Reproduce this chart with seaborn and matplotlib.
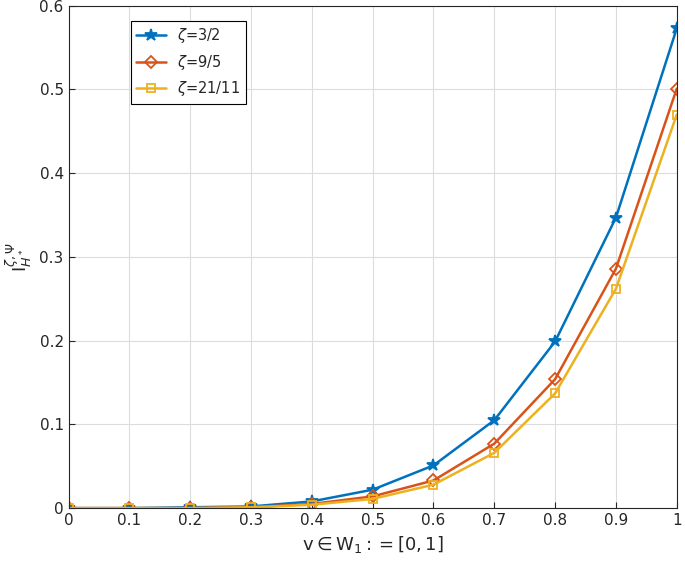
import numpy as np
import pandas as pd
import matplotlib
matplotlib.use("Agg")
import matplotlib.pyplot as plt
import seaborn as sns

sns.set_style("whitegrid")

v = [0, 0.1, 0.2, 0.3, 0.4, 0.5, 0.6, 0.7, 0.8, 0.9, 1.0]
zeta_3_2 = [0, 0, 0.001, 0.002, 0.008, 0.022, 0.051, 0.105, 0.199, 0.347, 0.573]
zeta_9_5 = [0, 0, 0, 0.001, 0.005, 0.014, 0.033, 0.077, 0.154, 0.286, 0.501]
zeta_21_11 = [0, 0, 0, 0.001, 0.004, 0.011, 0.028, 0.066, 0.137, 0.262, 0.470]
labels = [r"$\zeta$=3/2", r"$\zeta$=9/5", r"$\zeta$=21/11"]

d = pd.DataFrame({"v": v * 3,
                  "I": zeta_3_2 + zeta_9_5 + zeta_21_11,
                  "series": [labels[0]] * 11 + [labels[1]] * 11 + [labels[2]] * 11})

fig, ax = plt.subplots(figsize=(6.85, 5.69), dpi=100)
colors = ["#0072BD", "#D95319", "#EDB120"]
markers = ["*", "D", "s"]
for lab, c, m in zip(labels, colors, markers):
    sub = d[d["series"] == lab]
    sns.lineplot(data=sub, x="v", y="I", ax=ax, color=c, marker=m, lw=1.8,
                 markersize=9 if m == "*" else 6, markerfacecolor="none" if m != "*" else c,
                 markeredgecolor=c, markeredgewidth=1.3, label=lab)

ax.set_xlim(0, 1)
ax.set_ylim(0, 0.6)
ax.set_xticks(np.arange(0, 1.01, 0.1))
ax.set_xticklabels(["0", "0.1", "0.2", "0.3", "0.4", "0.5", "0.6", "0.7", "0.8", "0.9", "1"])
ax.set_yticks(np.arange(0, 0.61, 0.1))
ax.set_yticklabels(["0", "0.1", "0.2", "0.3", "0.4", "0.5", "0.6"])
ax.tick_params(labelsize=11, direction="in", length=4, left=True, bottom=True)
for s in ax.spines.values():
    s.set_color("#262626")
    s.set_linewidth(0.8)
ax.grid(color="#dcdcdc", lw=0.8)
ax.set_xlabel(r"$\mathrm{v} \in \mathrm{W}_1 := [0,1]$", fontsize=13)
ax.set_ylabel(r"$\mathrm{I}_{H^*}^{\zeta,\Psi}$", fontsize=13)
leg = ax.legend(loc="upper left", bbox_to_anchor=(0.09, 0.985), fontsize=10.5,
                frameon=True, fancybox=False, edgecolor="black", framealpha=1)
leg.get_frame().set_linewidth(0.8)

plt.subplots_adjust(left=0.1, right=0.988, top=0.99, bottom=0.107)
plt.savefig("out.png", dpi=100)
